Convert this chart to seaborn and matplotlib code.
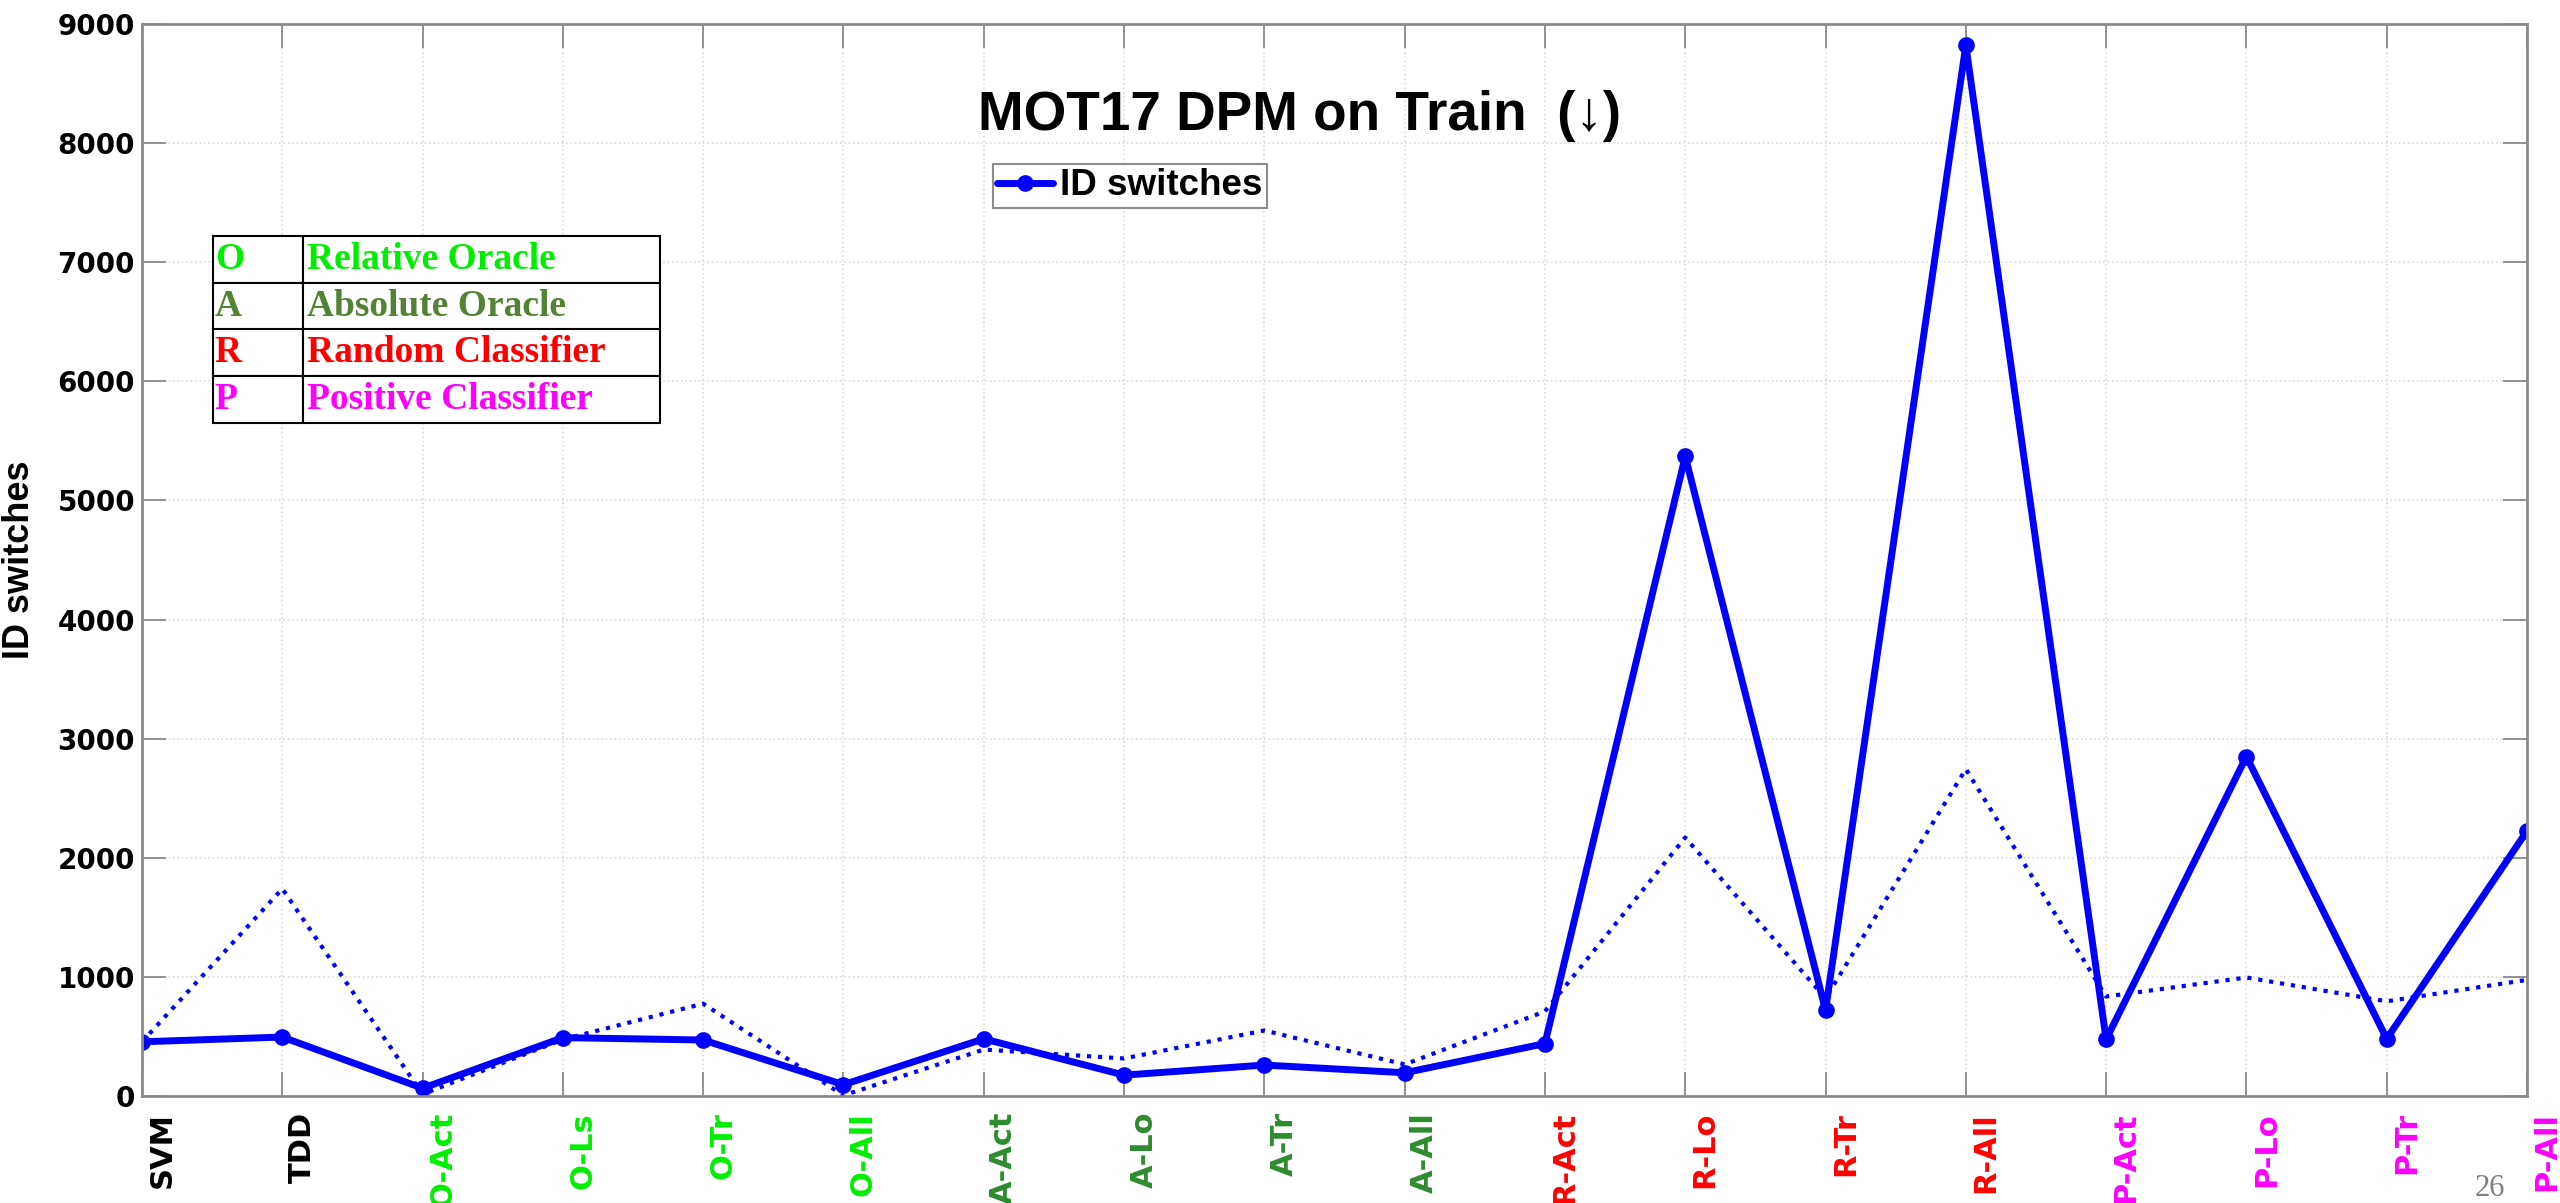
import matplotlib
matplotlib.use("Agg")
import matplotlib.pyplot as plt
import matplotlib.transforms as mtransforms
import pandas as pd
import seaborn as sns

# ---------------------------------------------------------------------------
# Data
# ---------------------------------------------------------------------------

METHODS = ["SVM", "TDD", "O-Act", "O-Ls", "O-Tr", "O-All", "A-Act", "A-Lo", "A-Tr",
           "A-All", "R-Act", "R-Lo", "R-Tr", "R-All", "P-Act", "P-Lo", "P-Tr", "P-All"]
ID_SWITCHES = [455, 495, 65, 490, 470, 95, 480, 175, 260,
               195, 440, 5370, 720, 8820, 475, 2850, 480, 2225]
ID_SWITCHES_DOTTED = [455, 1740, 15, 475, 775, 5, 390, 315, 550,
                      265, 710, 2170, 820, 2745, 835, 995, 795, 975]
YTICKS = [0, 1000, 2000, 3000, 4000, 5000, 6000, 7000, 8000, 9000]

PREFIX_COLORS = {"O": "#00EE00", "A": "#2E8B2E", "R": "#FF0000", "P": "#FF00FF"}
TABLE_KEYS = ["O", "A", "R", "P"]
TABLE_NAMES = ["Relative Oracle", "Absolute Oracle", "Random Classifier", "Positive Classifier"]
TABLE_COLORS = ["#00EE00", "#548235", "#FF0000", "#FF00FF"]

BLUE = "#0000FF"
GREY = "#8c8c8c"

# ---------------------------------------------------------------------------
# Style
# ---------------------------------------------------------------------------

sns.set_theme(style="ticks")
plt.rcParams["font.family"] = ["DejaVu Sans"]
plt.rcParams["font.weight"] = "bold"
plt.rcParams["text.color"] = "black"
plt.rcParams["axes.labelcolor"] = "black"
plt.rcParams["xtick.labelcolor"] = "black"
plt.rcParams["ytick.labelcolor"] = "black"

df = pd.DataFrame({"method": METHODS, "idsw": ID_SWITCHES, "dotted": ID_SWITCHES_DOTTED})

fig = plt.figure(figsize=(25.6, 12.03), dpi=100)
ax = fig.add_axes([142 / 2560, 1 - 1096 / 1203, (2527 - 142) / 2560, (1096 - 24) / 1203])

sns.lineplot(data=df, x="method", y="dotted", ax=ax, color=BLUE, linewidth=3,
             linestyle=":", sort=False, estimator=None, legend=False)
sns.lineplot(data=df, x="method", y="idsw", ax=ax, color=BLUE, linewidth=5,
             marker="o", markersize=10, markerfacecolor=BLUE,
             markeredgecolor=BLUE, markeredgewidth=2,
             sort=False, estimator=None, label="ID switches")

# axes
ax.set_xlim(0, len(METHODS) - 1)
ax.set_ylim(0, 9000)
ax.set_yticks(YTICKS)
ax.set_xticks(range(len(METHODS)))
ax.set_xticklabels(METHODS, rotation=90, va="top", ha="center")
ax.set_xlabel("")
ax.set_ylabel("ID switches", fontsize=26, family=["Liberation Sans", "DejaVu Sans"],
              fontweight="bold", color="black")
ax.yaxis.set_label_coords(-0.044, 0.5)

ax.grid(True, linestyle=":", color="#dadada", linewidth=1.2)
ax.tick_params(direction="in", length=17, width=1.2, color="#808080",
               top=True, right=True, labeltop=False, labelright=False)
ax.tick_params(axis="y", labelsize=20, pad=5)
ax.tick_params(axis="x", labelsize=22, pad=11.5)
for spine in ax.spines.values():
    spine.set_color(GREY)
    spine.set_linewidth(2)

offset = mtransforms.ScaledTranslation(0.2, 0, fig.dpi_scale_trans)
for lbl, name in zip(ax.get_xticklabels(), METHODS):
    lbl.set_color(PREFIX_COLORS.get(name.split("-")[0], "black"))
    lbl.set_transform(lbl.get_transform() + offset)

# legend
leg = ax.legend(loc="upper left", bbox_to_anchor=(993 / 2560, 1 - 164 / 1203),
                bbox_transform=fig.transFigure,
                prop=dict(family="Liberation Sans", weight="bold", size=26.5),
                frameon=True, fancybox=False, edgecolor=GREY, framealpha=1,
                handlelength=1.5, handletextpad=0.2, borderpad=0.12, borderaxespad=0)
leg.get_frame().set_linewidth(1.5)
for t in leg.get_texts():
    t.set_color("black")

# key table
tbl = ax.table(cellText=[[k, n] for k, n in zip(TABLE_KEYS, TABLE_NAMES)],
               cellLoc="left", colWidths=[0.2013, 0.7987],
               bbox=[(213 - 142) / 2385, (1096 - 423) / 1072, 447 / 2385, 187 / 1072])
tbl.auto_set_font_size(False)
for (r, c), cell in tbl.get_celld().items():
    cell.set_edgecolor("black")
    cell.set_linewidth(1.5)
    cell.set_facecolor("white")
    cell.PAD = 0.02 if c == 0 else 0.01
    txt = cell.get_text()
    txt.set_color(TABLE_COLORS[r])
    txt.set_fontsize(27)
    txt.set_fontfamily(["Liberation Serif"])
    txt.set_fontweight("bold")
tbl.set_zorder(5)

# title and page number
fig.text(1300 / 2560, 1 - 130 / 1203, "MOT17 DPM on Train  (\u2193)", ha="center",
         va="baseline", fontsize=39.5, fontweight="bold", color="black",
         family=["Liberation Sans", "DejaVu Sans"])
fig.text(2490 / 2560, 0.006, "26", ha="center", va="baseline", fontsize=22,
         fontweight="normal", color="#7f7f7f", family=["Liberation Serif"])

fig.savefig("out.png", dpi=100)
